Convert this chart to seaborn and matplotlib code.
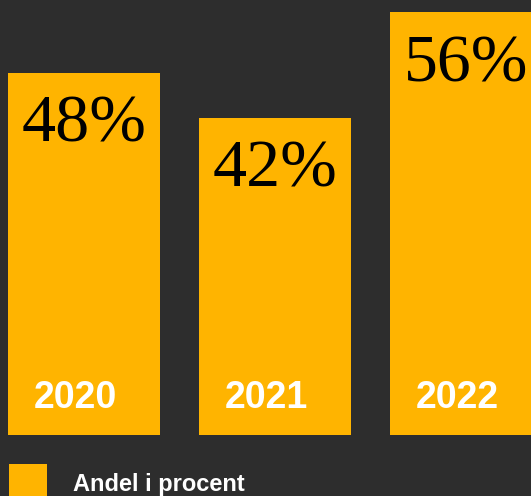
import matplotlib
matplotlib.use("Agg")
import matplotlib.pyplot as plt
import matplotlib.patches as mpatches
import seaborn as sns

years = ["2020", "2021", "2022"]
andel = [48, 42, 56]
labels = ["48%", "42%", "56%"]
legend_label = "Andel i procent"

bg = "#2d2d2d"
bar_color = "#ffb400"

sns.set_style("dark")
plt.rcParams["font.family"] = ["Liberation Sans", "DejaVu Sans"]

fig = plt.figure(figsize=(5.31, 4.96), dpi=100, facecolor=bg)
ax = fig.add_axes([0, 61 / 496, 1, 435 / 496])
ax.set_facecolor(bg)

sns.barplot(x=years, y=andel, color=bar_color, saturation=1, width=0.796,
            edgecolor="none", linewidth=0, ax=ax)

ax.set_xlim(-84 / 191, (531 - 84) / 191)
ax.set_ylim(0, 435 / 7.545)
ax.set_xticks([])
ax.set_yticks([])
ax.set_xlabel("")
ax.set_ylabel("")
sns.despine(ax=ax, left=True, bottom=True)

for patch, lab, yr in zip(ax.patches, labels, years):
    cx = patch.get_x() + patch.get_width() / 2
    # value label, serif, near the top of the bar
    ax.annotate(lab, (cx, patch.get_height()), xytext=(0, -49.5),
                textcoords="offset points", ha="center", va="baseline",
                fontsize=49, family="Liberation Serif", color="black")
    # year label, bold white, near the bottom
    ax.annotate(yr, (patch.get_x(), 0), xytext=(18.5, 19.5),
                textcoords="offset points", ha="left", va="baseline",
                fontsize=27, fontweight="bold", color="white")

# legend at the bottom
fig.patches.append(mpatches.Rectangle((9 / 531, 0), 38 / 531, 32 / 496,
                                      transform=fig.transFigure,
                                      facecolor=bar_color, edgecolor="none"))
fig.text(73 / 531, 5 / 496, legend_label, ha="left", va="baseline",
         fontsize=17, fontweight="bold", color="white")

fig.savefig("out.png", dpi=100, facecolor=bg)
